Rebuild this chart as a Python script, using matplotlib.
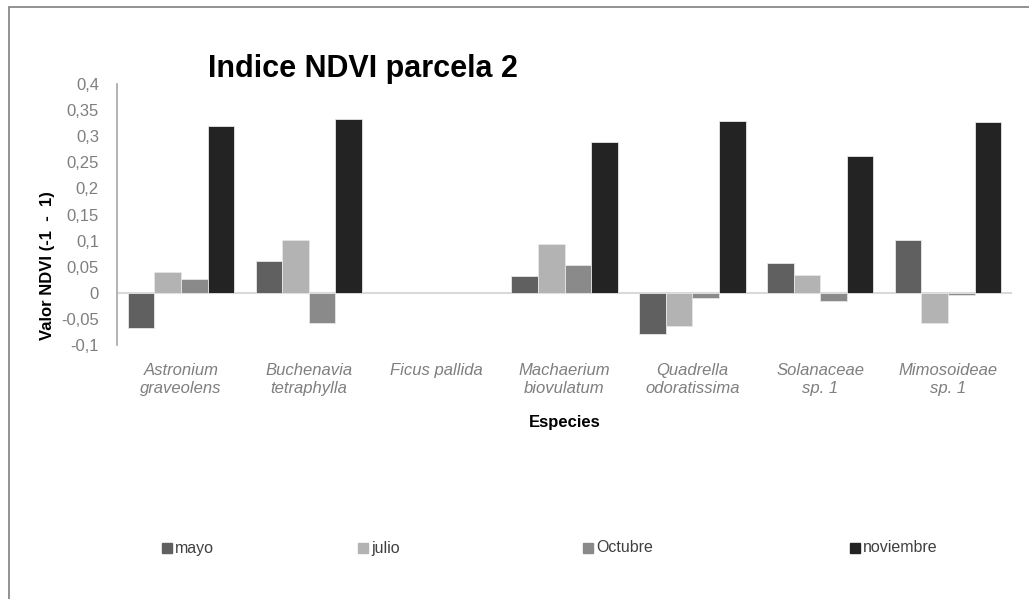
import matplotlib.pyplot as plt
import matplotlib.patches as mpatches
import numpy as np

plt.rcParams['font.family'] = ['Liberation Sans', 'DejaVu Sans']

# Data
especies = ["Astronium\ngraveolens", "Buchenavia\ntetraphylla", "Ficus pallida",
            "Machaerium\nbiovulatum", "Quadrella\nodoratissima", "Solanaceae\nsp. 1",
            "Mimosoideae\nsp. 1"]
meses = ["mayo", "julio", "Octubre", "noviembre"]
mayo = [-0.067, 0.060, np.nan, 0.033, -0.078, 0.057, 0.101]
julio = [0.040, 0.101, np.nan, 0.094, -0.064, 0.035, -0.058]
octubre = [0.027, -0.058, np.nan, 0.054, -0.010, -0.015, -0.004]
noviembre = [0.320, 0.333, np.nan, 0.289, 0.329, 0.262, 0.327]
yticks = [-0.1, -0.05, 0, 0.05, 0.1, 0.15, 0.2, 0.25, 0.3, 0.35, 0.4]

colors = ["#606060", "#b3b3b3", "#8a8a8a", "#232323"]
tick_color = "#7f7f7f"

fig = plt.figure(figsize=(10.29, 5.99), dpi=100)
W, H = 1029, 599

# outer frame (only top/left visible in the reference)
fig.patches.append(mpatches.Rectangle((9 / W, -0.1), 1.2, 1 - 7 / H + 0.1,
                                      transform=fig.transFigure, fill=False,
                                      edgecolor="#7f7f7f", linewidth=1.2))

ax = fig.add_axes([117 / W, 1 - 345 / H, 895 / W, 261 / H])

x = np.arange(len(especies))
bw = 0.208
series = [mayo, julio, octubre, noviembre]
for i, (vals, c) in enumerate(zip(series, colors)):
    ax.bar(x + (i - 1.5) * bw, vals, bw, color=c, edgecolor="#e6e6e6", linewidth=0.6, zorder=3)

ax.axhline(0, color="#d9d9d9", linewidth=1.5, zorder=2)
ax.set_xlim(-0.5, len(especies) - 0.5)
ax.set_ylim(-0.1, 0.4)
ax.set_yticks(yticks)
ax.set_yticklabels([f"{v:g}".replace(".", ",") for v in yticks],
                   fontsize=12, color=tick_color)
ax.set_xticks(x)
ax.set_xticklabels(especies, fontsize=12, color=tick_color, style="italic", linespacing=1.25)
ax.tick_params(axis="y", length=0, pad=13)
ax.tick_params(axis="x", length=0, pad=13)
for s in ["top", "right", "bottom"]:
    ax.spines[s].set_visible(False)
ax.spines["left"].set_color("#a6a6a6")
ax.spines["left"].set_linewidth(1.2)

ax.set_xlabel("Especies", fontsize=12, fontweight="bold", labelpad=14)
ax.set_ylabel("Valor NDVI (-1  -  1)", fontsize=12, fontweight="bold")
ax.yaxis.set_label_coords(-0.069, 0.306)

fig.text(208 / W, 1 - 77 / H, "Indice NDVI parcela 2", fontsize=22, fontweight="bold",
         ha="left", va="baseline")

# legend laid out like the reference
leg_x = [167, 363, 588, 855]
for xs, lab, c in zip(leg_x, meses, colors):
    fig.patches.append(mpatches.Rectangle(((xs - 5) / W, 1 - 553 / H), 10 / W, 10 / H,
                                          transform=fig.transFigure, color=c))
    fig.text((xs + 8) / W, 1 - 548 / H, lab, fontsize=11.5, color="#404040", va="center")

fig.savefig("out.png", dpi=100)
